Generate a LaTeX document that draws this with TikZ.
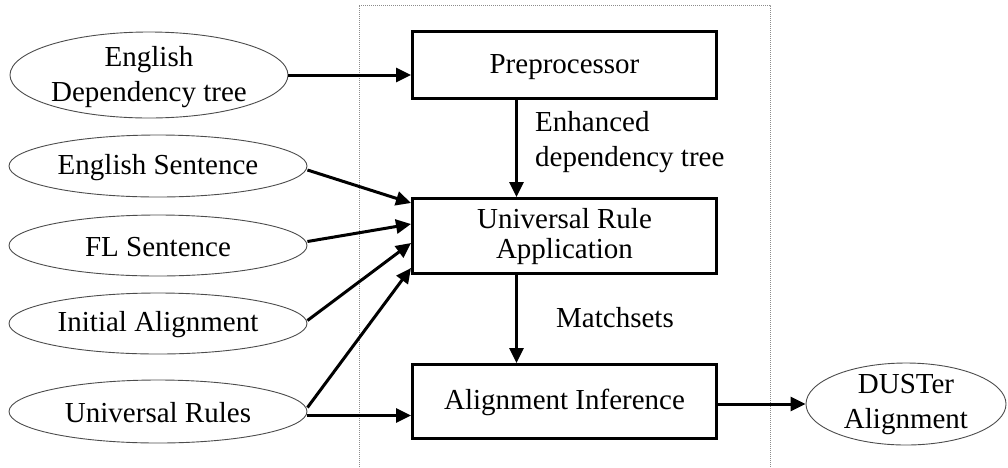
\documentclass[tikz,border=0pt]{standalone}
\usepackage{fontspec}
\setmainfont{Liberation Serif}
\usetikzlibrary{shapes.geometric,arrows.meta}
\begin{document}
\begin{tikzpicture}[x=1pt,y=-1pt,
  txt/.style={font=\fontsize{29}{35}\selectfont, align=center, inner sep=0},
  stage/.style={draw, line width=3pt, minimum width=304pt, inner sep=0},
  source/.style={draw=black!70, line width=0.9pt, ellipse, inner sep=0},
  flow/.style={line width=3pt, -{Triangle[length=15pt,width=14pt]}},
  frame/.style={draw=black!45, line width=1pt, dash pattern=on 1pt off 1pt}]
\useasboundingbox (0,0) rectangle (1008,467);

% system boundary (open at the bottom)
\draw[frame] (359,467) -- (359,5) -- (770,5) -- (770,467);

% processing stages
\node[stage, minimum height=67pt] (pre) at (564.5,65) {};
\node[txt] (pre-t) at (564.5,67) {Preprocessor};
\node[stage, minimum height=75pt] (ura) at (564.5,236) {};
\node[txt, font=\fontsize{29}{30}\selectfont] (ura-t) at (564.5,237) {Universal Rule\\Application};
\node[stage, minimum height=74pt] (ai) at (564.5,401.5) {};
\node[txt] (ai-t) at (564.5,402) {Alignment Inference};

% inputs
\node[source, minimum width=278pt, minimum height=86pt] (edt) at (149,75) {};
\node[txt] (edt-t) at (149,77) {English\\Dependency tree};
\node[source, minimum width=298pt, minimum height=62pt] (es) at (158,166) {};
\node[txt] (es-t) at (158,168) {English Sentence};
\node[source, minimum width=298pt, minimum height=61pt] (fl) at (158,245.5) {};
\node[txt] (fl-t) at (158,247) {FL Sentence};
\node[source, minimum width=298pt, minimum height=61pt] (ia) at (158,323.5) {};
\node[txt] (ia-t) at (158,325) {Initial Alignment};
\node[source, minimum width=298pt, minimum height=63pt] (ur) at (158,411.5) {};
\node[txt] (ur-t) at (158,413) {Universal Rules};

% output
\node[source, minimum width=200pt, minimum height=82pt] (du) at (906,404) {};
\node[txt] (du-t) at (906,405) {DUSTer\\Alignment};

% edge labels
\node[txt, align=left, anchor=west] (enh) at (535,142) {Enhanced\\dependency tree};
\node[txt] (ms) at (615,318) {Matchsets};

% connectors
\draw[flow] (edt.east) -- ([yshift=-10pt]pre.west);
\draw[flow] ([xshift=-48pt]pre.south) -- ([xshift=-48pt]ura.north);
\draw[flow] ([xshift=-48pt]ura.south) -- ([xshift=-48pt]ai.north);
\draw[flow] ([yshift=-4pt]es.east) -- ([yshift=33pt]ura.west);
\draw[flow] ([yshift=4pt]fl.east) -- ([yshift=12pt]ura.west);
\draw[flow] ([yshift=3pt]ia.east) -- ([yshift=-7pt]ura.west);
\draw[flow] ([yshift=4pt]ur.east) -- ([yshift=-32pt]ura.west);
\coordinate (urlow) at ([yshift=-4pt]ur.east);
\draw[flow] (urlow) -- (urlow -| ai.west);
\draw[flow] (ai.east |- du.west) -- (du.west);
\end{tikzpicture}
\end{document}
